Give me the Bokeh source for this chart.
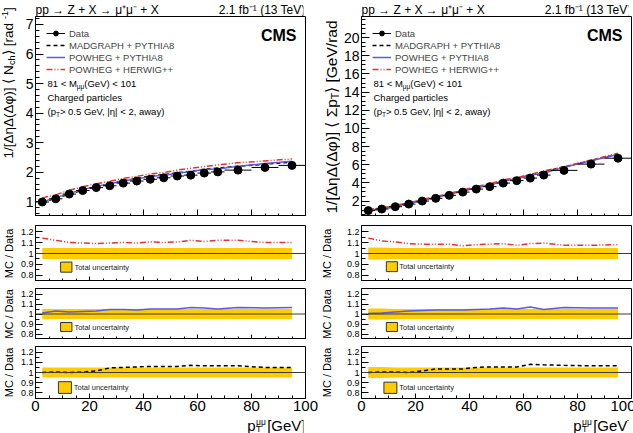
import math
import numpy as np
from bokeh.plotting import figure
from bokeh.layouts import column, row
from bokeh.models import (Label, Legend, LegendItem, FixedTicker, CustomJSTickFormatter,
                          BoxAnnotation, Span, Range1d, Spacer)
from bokeh.embed import file_html
from bokeh.resources import INLINE

FONT = "Liberation Sans"

# ---------------- data ----------------
pt_edges = [0, 5, 10, 15, 20, 25, 30, 35, 40, 45, 50, 55, 60, 65, 70, 80, 90, 100]

nch_data = [0.99, 1.10, 1.26, 1.38, 1.48, 1.54, 1.63, 1.70, 1.76, 1.81, 1.87, 1.90, 1.97, 2.01, 2.07, 2.16, 2.23]
nch_madgraph = [0.99, 1.11, 1.26, 1.39, 1.50, 1.61, 1.71, 1.79, 1.87, 1.92, 1.98, 2.03, 2.10, 2.14, 2.20, 2.27, 2.34]
nch_powheg_pythia = [1.00, 1.13, 1.29, 1.41, 1.52, 1.61, 1.70, 1.77, 1.85, 1.90, 1.96, 2.02, 2.09, 2.11, 2.20, 2.29, 2.37]
nch_powheg_herwig = [1.13, 1.23, 1.39, 1.51, 1.61, 1.69, 1.79, 1.86, 1.94, 1.99, 2.07, 2.13, 2.19, 2.25, 2.32, 2.38, 2.45]
nch_ratio_herwig = [1.14, 1.12, 1.10, 1.095, 1.09, 1.095, 1.10, 1.095, 1.105, 1.10, 1.105, 1.12, 1.11, 1.12, 1.12, 1.10, 1.10]
nch_ratio_pythia = [1.01, 1.03, 1.02, 1.025, 1.03, 1.045, 1.045, 1.04, 1.05, 1.05, 1.05, 1.065, 1.06, 1.05, 1.065, 1.06, 1.065]
nch_ratio_madgraph = [1.0, 1.005, 1.0, 1.005, 1.015, 1.045, 1.05, 1.055, 1.06, 1.06, 1.06, 1.07, 1.065, 1.065, 1.065, 1.05, 1.05]
nch_total_unc = [0.05, 0.05, 0.05, 0.05, 0.05, 0.05, 0.05, 0.05, 0.05, 0.05, 0.05, 0.05, 0.05, 0.05, 0.05, 0.05, 0.05]

sumpt_data = [0.95, 1.12, 1.38, 1.67, 2.00, 2.30, 2.63, 2.99, 3.32, 3.59, 3.98, 4.25, 4.53, 4.86, 5.38, 6.07, 6.72]
sumpt_madgraph = [0.95, 1.13, 1.39, 1.67, 2.03, 2.38, 2.72, 3.09, 3.49, 3.79, 4.20, 4.48, 4.89, 5.22, 5.76, 6.46, 7.16]
sumpt_powheg_pythia = [0.95, 1.13, 1.41, 1.72, 2.07, 2.39, 2.74, 3.11, 3.47, 3.77, 4.22, 4.46, 4.85, 5.08, 5.73, 6.43, 7.12]
sumpt_powheg_herwig = [1.08, 1.25, 1.52, 1.82, 2.17, 2.50, 2.85, 3.20, 3.59, 3.90, 4.34, 4.57, 4.94, 5.32, 5.78, 6.53, 7.26]
sumpt_ratio_herwig = [1.14, 1.115, 1.105, 1.09, 1.085, 1.085, 1.085, 1.07, 1.08, 1.085, 1.09, 1.075, 1.09, 1.095, 1.075, 1.075, 1.08]
sumpt_ratio_pythia = [1.005, 1.01, 1.02, 1.03, 1.035, 1.04, 1.04, 1.04, 1.045, 1.05, 1.06, 1.05, 1.07, 1.045, 1.065, 1.06, 1.06]
sumpt_ratio_madgraph = [1.0, 1.005, 1.005, 1.0, 1.015, 1.035, 1.035, 1.035, 1.05, 1.055, 1.055, 1.055, 1.08, 1.075, 1.07, 1.065, 1.065]
sumpt_total_unc = [0.055, 0.055, 0.05, 0.05, 0.05, 0.05, 0.05, 0.05, 0.05, 0.05, 0.05, 0.05, 0.05, 0.05, 0.05, 0.05, 0.05]

x_ticks = [0, 20, 40, 60, 80, 100]
nch_y_ticks = [1, 2, 3, 4, 5, 6, 7]
sumpt_y_ticks = [2, 4, 6, 8, 10, 12, 14, 16, 18, 20]
ratio_y_ticks = [0.8, 0.9, 1.0, 1.1, 1.2]

# ---------------- styles ----------------
C_MAD = "black"
C_PY = "#5B5BE0"
C_HW = "#E3342F"
C_BAND = "#FFCC00"
DASH_MAD = "4 3"
DASH_HW = "6 2 1 2 1 2"

lo = np.array(pt_edges[:-1], dtype=float)
hi = np.array(pt_edges[1:], dtype=float)
centers = (lo + hi) / 2.0

FW = 270
TOP_H = 16
MAIN_H, R1_H, R2_H, R3_H = 200, 56, 51, 52
RATIO_RANGE = (0.745, 1.255)
A = math.pi / 2

L_STRIP, R_STRIP = 17, 22
L_LB, L_RB = 16, 13          # left column: frame 33..303
R_LB, R_RB = 18, 7           # right column: frame 356..626
L_COLW = L_LB + FW + L_RB
R_COLW = R_LB + FW + R_RB


def make_fig(fh, lb, rb, bb, yr):
    p = figure(frame_width=FW, frame_height=fh, x_range=Range1d(0, 100), y_range=Range1d(*yr),
               min_border_left=lb, min_border_right=rb, min_border_top=0, min_border_bottom=bb,
               output_backend="svg", toolbar_location=None, tools="")
    p.grid.visible = False
    p.outline_line_color = "black"
    p.outline_line_alpha = 1.0
    p.outline_line_width = 1
    p.background_fill_color = "white"
    p.border_fill_color = "white"
    for ax in (p.xaxis[0], p.yaxis[0]):
        ax.major_tick_out = 0
        ax.minor_tick_out = 0
        ax.axis_line_color = "black"
        ax.major_tick_line_color = "black"
        ax.minor_tick_line_color = "black"
        ax.major_label_text_font = FONT
        ax.major_label_text_color = "black"
        ax.axis_label = None
    p.xaxis.ticker = FixedTicker(ticks=x_ticks, minor_ticks=list(range(0, 101, 5)))
    return p


def strip(w, h, lb=0, rb=0):
    # column layouts align left/right borders of plots, so column strips use the panel borders
    s = figure(width=w, height=h, x_range=Range1d(0, 1), y_range=Range1d(0, 1),
               min_border_left=lb, min_border_right=rb, min_border_top=0, min_border_bottom=0,
               x_axis_location=None, y_axis_location=None, output_backend="svg",
               toolbar_location=None, tools="")
    s.grid.visible = False
    s.outline_line_color = None
    s.background_fill_color = "white"
    s.border_fill_color = "white"
    return s


def put(p, x, y, text, size, align="left", angle=0.0, bold=False):
    # (x, y): screen px from the frame's bottom-left corner; y is the text's vertical middle
    p.add_layout(Label(x=x, y=y, x_units="screen", y_units="screen", text=text,
                       text_font=FONT, text_font_size=f"{size}px", text_align=align,
                       text_baseline="middle", angle=angle, text_color="black",
                       text_font_style="bold" if bold else "normal"))


def main_panel(side, data, mad, pyt, hw, yr, yticks, yminor):
    lb, rb = (L_LB, L_RB) if side == "L" else (R_LB, R_RB)
    p = make_fig(MAIN_H, lb, rb, 0, yr)
    p.xaxis.major_tick_in = 7
    p.xaxis.minor_tick_in = 3
    p.xaxis.formatter = CustomJSTickFormatter(code="return '';")
    p.xaxis.major_label_standoff = 0
    p.yaxis.ticker = FixedTicker(ticks=yticks, minor_ticks=yminor)
    p.yaxis.major_tick_in = 8
    p.yaxis.minor_tick_in = 4
    p.yaxis.major_label_standoff = 2
    p.yaxis.major_label_text_font_size = "14px"

    r_mad = p.line(centers, mad, line_color=C_MAD, line_dash=DASH_MAD, line_width=1.5)
    r_py = p.line(centers, pyt, line_color=C_PY, line_width=1.5)
    r_hw = p.line(centers, hw, line_color=C_HW, line_dash=DASH_HW, line_width=1.5)
    r_err = p.segment(x0=lo, y0=data, x1=hi, y1=data, line_color="black", line_width=1)
    r_dat = p.scatter(centers, data, size=8, fill_color="black", line_color="black")

    leg = Legend(items=[LegendItem(label="Data", renderers=[r_err, r_dat]),
                        LegendItem(label="MADGRAPH + PYTHIA8", renderers=[r_mad]),
                        LegendItem(label="POWHEG + PYTHIA8", renderers=[r_py]),
                        LegendItem(label="POWHEG + HERWIG++", renderers=[r_hw])],
                 location="top_left", label_text_font=FONT, label_text_font_size="9.5px",
                 glyph_width=19, glyph_height=12, label_height=12, spacing=0, padding=0, margin=11,
                 label_standoff=4, border_line_color=None, background_fill_alpha=0)
    p.add_layout(leg)

    put(p, 261, 181.3, "CMS", 16, align="right", bold=True)
    put(p, 12, 133.3, "81 < M", 9.5)
    put(p, 41.3, 130.5, "μμ", 6.5)
    put(p, 48.8, 133.3, " (GeV) < 101", 9.5)
    put(p, 12, 118.7, "Charged particles", 9.5)
    put(p, 12, 105.3, "(p", 9.5)
    put(p, 20.4, 102.5, "T", 6.5)
    put(p, 24.4, 105.3, " > 0.5 GeV, |η| < 2, away)", 9.5)
    return p


def ratio_panel(side, ratio, unc, line_color, line_dash, fh, bb, box, last=False):
    lb, rb = (L_LB, L_RB) if side == "L" else (R_LB, R_RB)
    p = make_fig(fh, lb, rb, bb, RATIO_RANGE)
    p.xaxis.major_tick_in = 5
    p.xaxis.minor_tick_in = 3
    p.yaxis.ticker = FixedTicker(ticks=ratio_y_ticks,
                                 minor_ticks=[0.8, 0.85, 0.9, 0.95, 1.0, 1.05, 1.1, 1.15, 1.2])
    p.yaxis.formatter = CustomJSTickFormatter(
        code="return Math.abs(tick - 1) < 1e-6 ? '1' : tick.toFixed(1);")
    p.yaxis.major_tick_in = 7
    p.yaxis.minor_tick_in = 4
    p.yaxis.major_label_text_font_size = "9px"
    p.yaxis.major_label_standoff = 2
    if last:
        p.xaxis.major_label_text_font_size = "15px"
        p.xaxis.major_label_standoff = 2
    else:
        p.xaxis.formatter = CustomJSTickFormatter(code="return '';")
        p.xaxis.major_label_standoff = 0

    u = np.array(unc)
    p.varea(x=centers, y1=1 - u, y2=1 + u, fill_color=C_BAND, fill_alpha=1.0)
    p.add_layout(Span(location=1.0, dimension="width", line_color="#3a3a3a", line_width=1))
    if line_dash is None:
        p.line(centers, ratio, line_color=line_color, line_width=1.5)
    else:
        p.line(centers, ratio, line_color=line_color, line_dash=line_dash, line_width=1.5)

    bx0, bx1, by0, by1, tx = box
    p.add_layout(BoxAnnotation(left=bx0, right=bx1, bottom=by0, top=by1, fill_color=C_BAND,
                               fill_alpha=1.0, line_color="#333333", line_width=1, line_alpha=1.0))
    p.add_layout(Label(x=tx, y=(by0 + by1) / 2, text="Total uncertainty", text_font=FONT,
                       text_font_size="7.5px", text_baseline="middle", text_color="#222222"))
    return p


# ---------------- left column ----------------
nch_minor = [round(0.6 + 0.2 * i, 2) for i in range(34)]
pL = main_panel("L", nch_data, nch_madgraph, nch_powheg_pythia, nch_powheg_herwig,
                (0.5, 7.27), nch_y_ticks, nch_minor)
r1L = ratio_panel("L", nch_ratio_herwig, nch_total_unc, C_HW, DASH_HW, R1_H, 0,
                  (9.3, 13.5, 0.83, 0.922, 14.4))
r2L = ratio_panel("L", nch_ratio_pythia, nch_total_unc, C_PY, None, R2_H, 0,
                  (9.3, 13.5, 0.825, 0.915, 14.4))
r3L = ratio_panel("L", nch_ratio_madgraph, nch_total_unc, C_MAD, DASH_MAD, R3_H, 20,
                  (8.5, 13.3, 0.795, 0.91, 14.2), last=True)

# ---------------- right column ----------------
sumpt_minor = [round(0.5 + 0.5 * i, 2) for i in range(44)]
pR = main_panel("R", sumpt_data, sumpt_madgraph, sumpt_powheg_pythia, sumpt_powheg_herwig,
                (0.3, 22.33), sumpt_y_ticks, sumpt_minor)
r1R = ratio_panel("R", sumpt_ratio_herwig, sumpt_total_unc, C_HW, DASH_HW, R1_H, 0,
                  (9.2, 13.3, 0.835, 0.925, 14.0))
r2R = ratio_panel("R", sumpt_ratio_pythia, sumpt_total_unc, C_PY, None, R2_H, 0,
                  (9.2, 13.3, 0.825, 0.915, 14.0))
r3R = ratio_panel("R", sumpt_ratio_madgraph, sumpt_total_unc, C_MAD, DASH_MAD, R3_H, 20,
                  (8.3, 13.1, 0.795, 0.905, 14.0), last=True)

# ---------------- text strips ----------------
H = 433
# left y-title strip (canvas x 0..17); rotated pieces centred at x = 8
sL = strip(L_STRIP, H)
put(sL, 8, 275, "1/[ΔηΔ(Δφ)] ⟨ N", 13.5, angle=A)
put(sL, 11.5, 368.6, "ch", 9, angle=A)
put(sL, 8, 378.5, " ⟩ [rad", 13.5, angle=A)
put(sL, 4, 414.5, "-1", 9, angle=A)
put(sL, 8, 422.5, "]", 13.5, angle=A)
for cy in (253, 313.5, 372):
    put(sL, 8, H - cy, "MC / Data", 11, align="center", angle=A)

# right y-title strip (canvas x 316..338)
sR = strip(R_STRIP, H)
put(sR, 13, 220, "1/[ΔηΔ(Δφ)] ⟨ Σp", 15.5, angle=A)
put(sR, 16.5, 334.3, "T", 10.5, angle=A)
put(sR, 13, 340.7, " ⟩ [GeV/rad", 15.5, angle=A)
for cy in (253, 313.5, 372):
    put(sR, 8, H - cy, "MC / Data", 11, align="center", angle=A)

# top strips (canvas y 0..16); x measured from the panel frame's left edge
tL = strip(L_COLW, TOP_H, L_LB, L_RB)
put(tL, 0, TOP_H - 9.3, "pp → Z + X → μ⁺μ⁻ + X", 12)
put(tL, 270, TOP_H - 9.3, "2.1 fb⁻¹ (13 TeV)", 12, align="right")
tR = strip(R_COLW, TOP_H, R_LB, R_RB)
put(tR, 0, TOP_H - 9.3, "pp → Z + X → μ⁺μ⁻ + X", 12)
put(tR, 270, TOP_H - 9.3, "2.1 fb⁻¹ (13 TeV)", 12, align="right")

# bottom strips (canvas y 418..433): p_T^{mumu} [GeV]
bL = strip(L_COLW, 15, L_LB, L_RB)
bR = strip(R_COLW, 15, R_LB, R_RB)
for s in (bL, bR):
    put(s, 220, 8.5, "p", 15, align="right")
    put(s, 220.5, 11.3, "μμ", 8.5)
    put(s, 220.5, 4.2, "T", 9)
    put(s, 270, 8.5, "[GeV]", 15, align="right")

colL = column(tL, pL, Spacer(width=L_COLW, height=9), r1L, Spacer(width=L_COLW, height=7), r2L,
              Spacer(width=L_COLW, height=7), r3L, bL)
colR = column(tR, pR, Spacer(width=R_COLW, height=9), r1R, Spacer(width=R_COLW, height=7), r2R,
              Spacer(width=R_COLW, height=7), r3R, bR)
layout = row(sL, colL, sR, colR)

open("out.html", "w").write(file_html(layout, INLINE))
